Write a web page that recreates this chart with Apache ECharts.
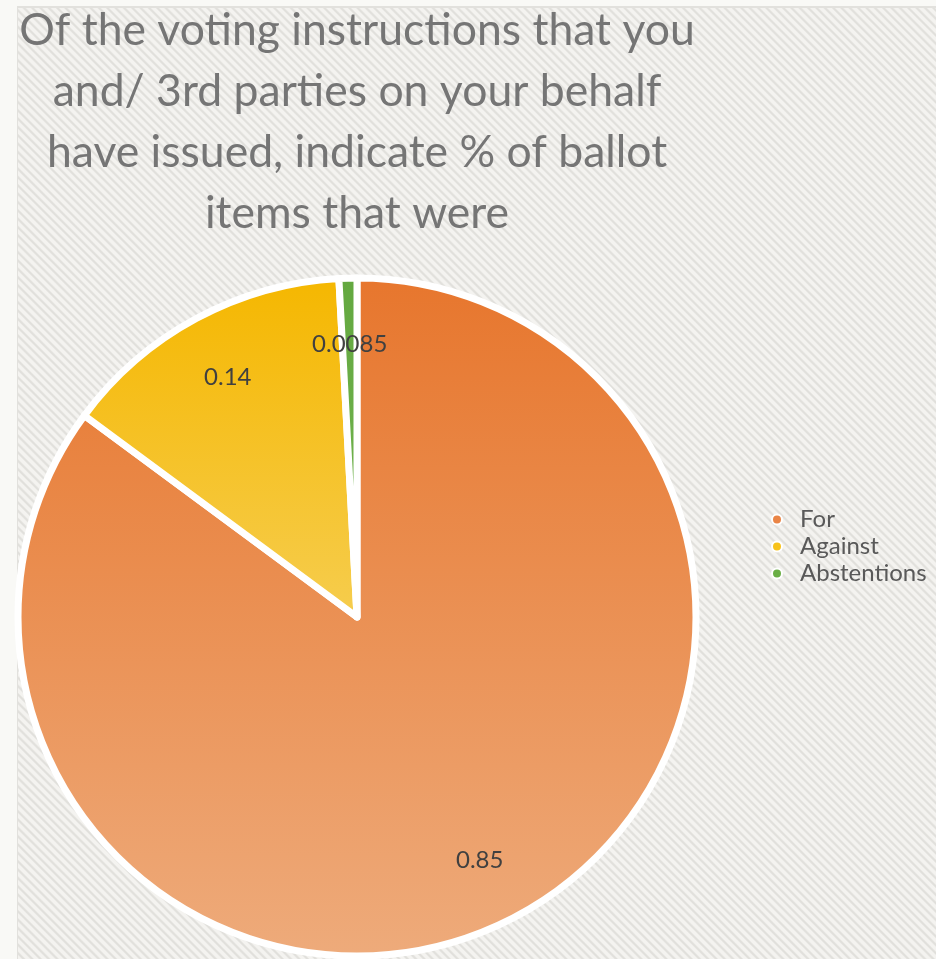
<!DOCTYPE html>
<html>
<head>
<meta charset="utf-8">
<script src="https://cdn.jsdelivr.net/npm/echarts@6/dist/echarts.min.js"></script>
<style>
  html, body { margin: 0; padding: 0; width: 936px; height: 959px; overflow: hidden; background: #f9f9f6; }
  #panel {
    position: absolute; left: 17px; top: 6px; right: 0; bottom: 0;
    border-left: 1px solid #e2e1dd; border-top: 2px solid #e2e1dd;
    background: repeating-linear-gradient(45deg,
      #f4f3f0 0px, #f4f3f0 2.4px, #e1e0dc 3.6px, #e1e0dc 4.6px, #f4f3f0 5.9px);
  }
  #chart { position: absolute; left: 0; top: 0; width: 936px; height: 959px; }
</style>
</head>
<body>
<div id="panel"></div>
<div id="chart"></div>
<script>
// Share of ballot items by voting instruction
const categories = ['For', 'Against', 'Abstentions'];
const shares = [0.85, 0.14, 0.0085];
const valueLabels = ['0.85', '0.14', '0.0085'];

const titleText = 'Of the voting instructions that you\nand/ 3rd parties on your behalf\nhave issued, indicate % of ballot\nitems that were';

const fillColors = [
  ['#e7762d', '#eeab7b'],
  ['#f5b700', '#f6cd4e'],
  ['#63a83f', '#76b653']
];
const legendColors = ['#ea8546', '#f7c21a', '#6aae45'];

const chart = echarts.init(document.getElementById('chart'), null, { renderer: 'canvas' });

const sliceData = categories.map((name, i) => ({
  name,
  value: shares[i],
  itemStyle: {
    color: new echarts.graphic.LinearGradient(0, 0, 0, 1, [
      { offset: 0, color: fillColors[i][0] },
      { offset: 1, color: fillColors[i][1] }
    ])
  }
}));

const labelData = categories.map((name, i) => ({
  name,
  value: shares[i],
  label: { formatter: valueLabels[i] }
}));

chart.setOption({
  backgroundColor: 'transparent',
  animation: false,
  title: {
    text: titleText,
    left: 352,
    top: -5,
    textAlign: 'center',
    textStyle: {
      fontFamily: 'Lato',
      fontSize: 44.5,
      fontWeight: 'normal',
      color: '#757575',
      lineHeight: 61
    }
  },
  legend: {
    orient: 'vertical',
    left: 766,
    top: 501,
    icon: 'circle',
    itemWidth: 10,
    itemHeight: 10,
    itemGap: 0,
    data: categories.map((name, i) => ({ name, itemStyle: { color: legendColors[i] } })),
    textStyle: { fontFamily: 'Lato', fontSize: 24, color: '#595959', lineHeight: 27, padding: [0, 0, 0, 13] }
  },
  series: [
    {
      type: 'pie',
      center: [357, 617],
      radius: [0, 339],
      startAngle: 90,
      clockwise: true,
      silent: true,
      data: sliceData,
      itemStyle: { borderColor: '#ffffff', borderWidth: 7 },
      label: { show: false },
      labelLine: { show: false }
    },
    {
      // transparent ring used only to place the value labels
      type: 'pie',
      center: [357, 617],
      radius: [200, 339],
      startAngle: 90,
      clockwise: true,
      silent: true,
      data: labelData,
      itemStyle: { color: 'rgba(0,0,0,0)' },
      label: {
        show: true,
        position: 'inside',
        fontFamily: 'Lato',
        fontSize: 24,
        color: '#404040'
      },
      labelLine: { show: false }
    }
  ]
});
</script>
</body>
</html>
